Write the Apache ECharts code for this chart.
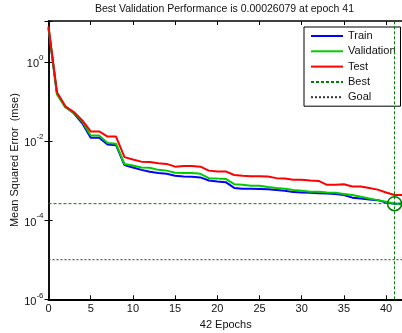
<!DOCTYPE html>
<html>
<head>
<meta charset="utf-8">
<script src="https://cdn.jsdelivr.net/npm/echarts@6/dist/echarts.min.js"></script>
<style>
html, body { margin: 0; padding: 0; background: #fff; }
#chart { width: 402px; height: 333px; }
</style>
</head>
<body>
<div id="chart"></div>
<script>
// performance per epoch
var epochs = [0, 1, 2, 3, 4, 5, 6, 7, 8, 9, 10, 11, 12, 13, 14, 15, 16, 17, 18, 19, 20,
  21, 22, 23, 24, 25, 26, 27, 28, 29, 30, 31, 32, 33, 34, 35, 36, 37, 38, 39, 40, 41, 42];
var trainPerf = [7.0, 0.16, 0.072, 0.05, 0.028, 0.012, 0.012, 0.0081, 0.0078, 0.00245, 0.00214,
  0.00186, 0.00166, 0.00155, 0.00148, 0.00132, 0.00126, 0.00125, 0.0012, 0.001, 0.00095,
  0.00091, 0.00065, 0.00062, 0.00062, 0.00061, 0.0006, 0.00058, 0.00055, 0.00051, 0.0005,
  0.00049, 0.00048, 0.00047, 0.00046, 0.00043, 0.00037, 0.00035, 0.00033, 0.00032, 0.00028,
  0.00026, 0.00026];
var valPerf = [7.5, 0.15, 0.07, 0.052, 0.031, 0.0138, 0.0138, 0.0089, 0.0085, 0.0026, 0.0024,
  0.00214, 0.0021, 0.00186, 0.00178, 0.00158, 0.00155, 0.00155, 0.00148, 0.00115, 0.00112,
  0.0011, 0.00081, 0.00078, 0.00074, 0.00074, 0.00069, 0.00065, 0.00062, 0.00058, 0.00055,
  0.00052, 0.00052, 0.0005, 0.00049, 0.00046, 0.00043, 0.00039, 0.00035, 0.00032, 0.00029,
  0.00026079, 0.00026];
var testPerf = [7.8, 0.17, 0.075, 0.054, 0.033, 0.0174, 0.0174, 0.0129, 0.0129, 0.0039, 0.0034,
  0.003, 0.00295, 0.00275, 0.00263, 0.00224, 0.00234, 0.00234, 0.00224, 0.00178, 0.0017,
  0.0017, 0.00138, 0.00132, 0.00129, 0.00129, 0.00126, 0.00115, 0.00112, 0.00105, 0.00104,
  0.001, 0.00098, 0.00078, 0.00078, 0.00081, 0.00071, 0.00071, 0.00065, 0.00059, 0.0005,
  0.00043, 0.00043];
var bestEpoch = 41;
var bestPerf = 0.00026079;
var goalPerf = 1e-5;
var xRange = [0, 42];
var yRange = [1e-6, Math.pow(10, 1.03)];
var legendNames = ['Train', 'Validation', 'Test', 'Best', 'Goal'];

var font = 'Liberation Sans, Arial, Helvetica, sans-serif';

function pairs(vals) {
  var out = [];
  for (var i = 0; i < vals.length; i++) {
    out.push([epochs[i], vals[i]]);
  }
  return out;
}

// 10^n labels, only on whole decades
function powLabel(v) {
  var e = Math.log10(v);
  if (!(v > 0) || Math.abs(e - Math.round(e)) > 0.01) return '';
  return '{b|10}{sup|' + Math.round(e) + '}';
}

var chart = echarts.init(document.getElementById('chart'));

var option = {
  animation: false,
  backgroundColor: '#fff',
  title: {
    text: 'Best Validation Performance is 0.00026079 at epoch 41',
    left: 95,
    top: 4,
    padding: 0,
    textStyle: { fontFamily: font, fontSize: 10.5, fontWeight: 'normal', color: '#111' }
  },
  legend: {
    data: legendNames,
    orient: 'vertical',
    left: 304,
    top: 27,
    itemWidth: 32,
    itemHeight: 12,
    itemGap: 3.3,
    padding: [3, 5, 3, 6],
    borderColor: '#000',
    borderWidth: 1,
    backgroundColor: '#fff',
    itemStyle: { opacity: 0 },
    textStyle: { fontFamily: font, fontSize: 11, color: '#111', lineHeight: 12 }
  },
  grid: { left: 48.5, right: -1, top: 21, bottom: 33.7, outerBoundsMode: 'none', containLabel: false },
  xAxis: [{
    type: 'value',
    min: xRange[0],
    max: xRange[1],
    interval: 5,
    name: '42 Epochs',
    nameLocation: 'middle',
    nameGap: 16,
    nameTextStyle: { fontFamily: font, fontSize: 11, color: '#111' },
    axisLine: { lineStyle: { color: '#000', width: 2 } },
    axisTick: { inside: true, length: 4, lineStyle: { color: '#000' } },
    axisLabel: {
      margin: 4,
      fontFamily: font, fontSize: 11, color: '#111',
      formatter: function (v) { return v % 5 === 0 ? String(v) : ''; }
    },
    splitLine: { show: false }
  }, {
    type: 'value',
    position: 'top',
    min: xRange[0],
    max: xRange[1],
    interval: 5,
    axisLine: { lineStyle: { color: '#000', width: 1.5 } },
    axisTick: { inside: true, length: 4, lineStyle: { color: '#000' } },
    axisLabel: { show: false },
    splitLine: { show: false }
  }],
  yAxis: [{
    type: 'log',
    logBase: 10,
    min: yRange[0],
    max: yRange[1],
    interval: 2,
    name: 'Mean Squared Error  (mse)',
    nameLocation: 'middle',
    nameGap: 28,
    nameMoveOverlap: false,
    nameTextStyle: { fontFamily: font, fontSize: 11, color: '#111' },
    axisLine: { lineStyle: { color: '#000', width: 1.5 } },
    axisTick: { inside: true, length: 4, lineStyle: { color: '#000' } },
    axisLabel: {
      margin: 5,
      formatter: powLabel,
      rich: {
        b: { fontFamily: font, fontSize: 11, color: '#111', lineHeight: 16, verticalAlign: 'bottom' },
        sup: { fontFamily: font, fontSize: 8, color: '#111', lineHeight: 6, verticalAlign: 'top' }
      }
    },
    splitLine: { show: false },
    minorTick: { show: false }
  }, {
    type: 'log',
    logBase: 10,
    position: 'right',
    min: yRange[0],
    max: yRange[1],
    interval: 2,
    axisLine: { lineStyle: { color: '#000', width: 1.5 } },
    axisTick: { inside: true, length: 4, lineStyle: { color: '#000' } },
    axisLabel: { show: false },
    splitLine: { show: false }
  }],
  series: [{
    name: 'Train',
    type: 'line',
    data: pairs(trainPerf),
    symbol: 'none',
    color: '#0000ff',
    lineStyle: { width: 2, color: '#0000ff' }
  }, {
    name: 'Validation',
    type: 'line',
    data: pairs(valPerf),
    symbol: 'none',
    color: '#00cc00',
    lineStyle: { width: 2, color: '#00cc00' }
  }, {
    name: 'Test',
    type: 'line',
    data: pairs(testPerf),
    symbol: 'none',
    color: '#ff0000',
    lineStyle: { width: 2, color: '#ff0000' }
  }, {
    name: 'Best',
    type: 'line',
    data: [[xRange[0], bestPerf], [xRange[1], bestPerf]],
    symbol: 'none',
    color: '#008000',
    lineStyle: { width: 1, type: [3, 2], color: '#008000' },
    markLine: {
      silent: true,
      symbol: 'none',
      label: { show: false },
      lineStyle: { width: 1, type: [3, 2], color: '#008000' },
      data: [{ xAxis: bestEpoch }]
    },
    markPoint: {
      silent: true,
      symbol: 'circle',
      symbolSize: 14,
      label: { show: false },
      itemStyle: { color: 'rgba(0,0,0,0)', borderColor: '#008000', borderWidth: 1.5 },
      data: [{ coord: [bestEpoch, bestPerf] }]
    }
  }, {
    name: 'Goal',
    type: 'line',
    data: [[xRange[0], goalPerf], [xRange[1], goalPerf]],
    symbol: 'none',
    color: '#333',
    lineStyle: { width: 1, type: [2, 2], color: '#333' }
  }]
};

chart.setOption(option);
</script>
</body>
</html>
